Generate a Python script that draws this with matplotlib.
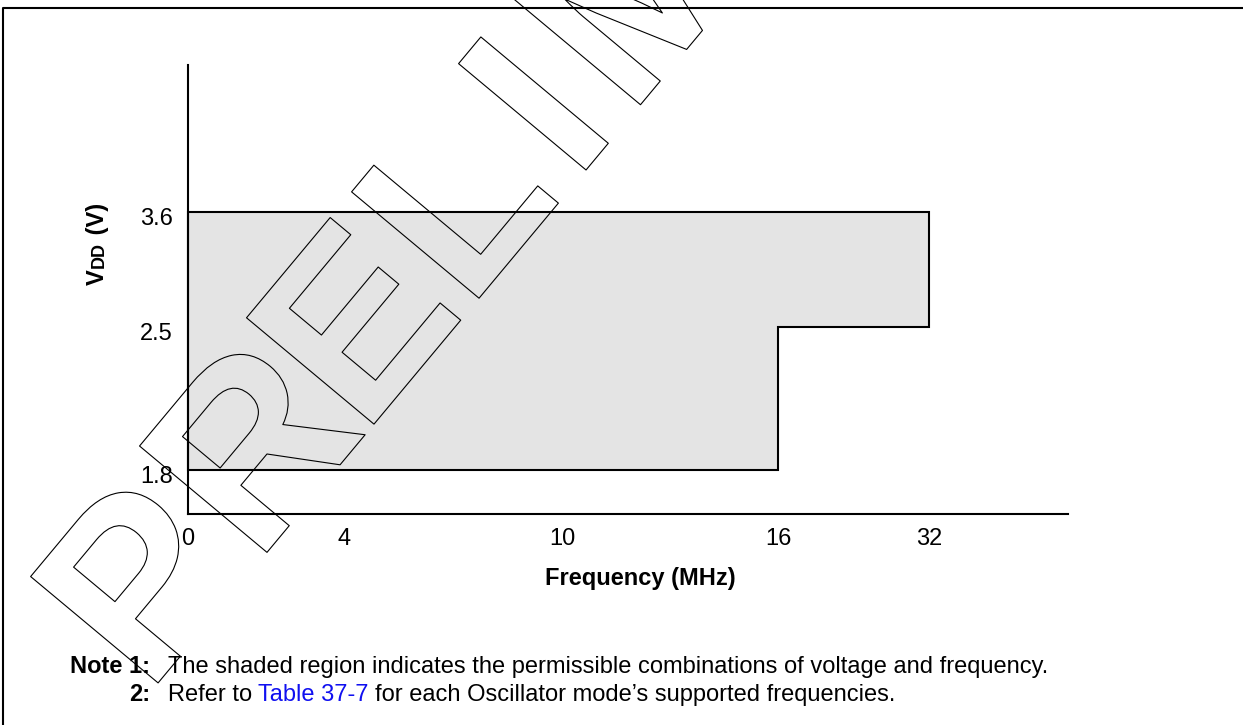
import numpy as np
import matplotlib
matplotlib.use("Agg")
import matplotlib.pyplot as plt
import matplotlib.patheffects as pe
from matplotlib.lines import Line2D
from matplotlib.font_manager import FontProperties
from matplotlib.textpath import TextPath
from matplotlib.transforms import ScaledTranslation

plt.rcParams['font.family'] = ['Liberation Sans', 'DejaVu Sans']

# donnees
FREQ_TICKS = [0, 4, 10, 16, 32]          # MHz
FREQ_LABELS = ['0', '4', '10', '16', '32']
VDD_TICKS = [1.8, 2.5, 3.6]              # V
VDD_LABELS = ['1.8', '2.5', '3.6']

# contour de la zone autorisee (frequence, tension)
ZONE_FREQ = [0, 32, 32, 16, 16, 0]
ZONE_VDD = [3.6, 3.6, 2.5, 2.5, 1.8, 1.8]

NOTE1 = "The shaded region indicates the permissible combinations of voltage and frequency."
NOTE2_A = "Refer to"
NOTE2_LINK = "Table 37-7"
NOTE2_B = "for each Oscillator mode\u2019s supported frequencies."

# mise en page (pixels) : axes non lineaires du schema
W, H = 1243, 725
X_POS = [0, 156, 374, 590, 741]   # position des graduations en x
Y_POS = [44, 187, 302]            # position des graduations en y
AX_L, AX_R, AX_T, AX_B = 188, 1068, 65, 514
FS = 17


def interp_ext(v, xs, ys):
    xs = np.asarray(xs, float)
    ys = np.asarray(ys, float)
    v = np.asarray(v, float)
    out = np.interp(v, xs, ys)
    s0 = (ys[1] - ys[0]) / (xs[1] - xs[0])
    s1 = (ys[-1] - ys[-2]) / (xs[-1] - xs[-2])
    out = np.where(v < xs[0], ys[0] + (v - xs[0]) * s0, out)
    out = np.where(v > xs[-1], ys[-1] + (v - xs[-1]) * s1, out)
    return out


fig = plt.figure(figsize=(W / 100, H / 100), dpi=100)
ax = fig.add_axes([AX_L / W, (H - AX_B) / H, (AX_R - AX_L) / W, (AX_B - AX_T) / H])

ax.set_xscale('function', functions=(lambda v: interp_ext(v, FREQ_TICKS, X_POS),
                                     lambda p: interp_ext(p, X_POS, FREQ_TICKS)))
ax.set_yscale('function', functions=(lambda v: interp_ext(v, VDD_TICKS, Y_POS),
                                     lambda p: interp_ext(p, Y_POS, VDD_TICKS)))
ax.set_xlim(0, float(interp_ext(AX_R - AX_L, X_POS, FREQ_TICKS)))
ax.set_ylim(float(interp_ext(0, Y_POS, VDD_TICKS)), float(interp_ext(AX_B - AX_T, Y_POS, VDD_TICKS)))

ax.fill(ZONE_FREQ, ZONE_VDD, facecolor='#e4e4e4', edgecolor='black', lw=1.5, clip_on=False, zorder=2)

for s in ['top', 'right']:
    ax.spines[s].set_visible(False)
for s in ['left', 'bottom']:
    ax.spines[s].set_linewidth(1.5)
    ax.spines[s].set_zorder(3)

ax.set_xticks(FREQ_TICKS, FREQ_LABELS)
ax.set_yticks(VDD_TICKS, VDD_LABELS)
ax.minorticks_off()
ax.tick_params(axis='x', length=0, labelsize=FS, pad=10)
ax.tick_params(axis='y', length=0, labelsize=FS, pad=11)
# les etiquettes en y sont un peu sous les lignes dans l'original
for tk in ax.yaxis.get_major_ticks():
    tk.label1.set_va('center_baseline')
    tk.label1.set_transform(tk.label1.get_transform() + ScaledTranslation(0, -0.045, fig.dpi_scale_trans))

fig.text(640 / W, 1 - 579 / H, 'Frequency (MHz)', ha='center', va='center',
         fontsize=FS, fontweight='bold')

# cadre
fig.add_artist(Line2D([3 / W, 3 / W, 1], [0, 1 - 8 / H, 1 - 8 / H],
                      transform=fig.transFigure, color='black', lw=1.5))

fig.canvas.draw()
rend = fig.canvas.get_renderer()

# etiquette VDD (V) : V + DD plus petit + (V), tournee de 90 degres
yb = H - 285
xb = 104
for txt, fs in [('V', FS), ('DD', 13), (' (V)', FS)]:
    t = fig.text(xb / W, yb / H, txt, rotation=90, rotation_mode='anchor',
                 ha='left', va='baseline', fontsize=fs, fontweight='bold')
    bb = t.get_window_extent(rend)
    yb = bb.y1 + 1

# notes
fig.text(150 / W, 1 - 673 / H, 'Note 1:', ha='right', va='baseline', fontsize=FS, fontweight='bold')
fig.text(168 / W, 1 - 673 / H, NOTE1, ha='left', va='baseline', fontsize=FS)
fig.text(150 / W, 1 - 701 / H, '2:', ha='right', va='baseline', fontsize=FS, fontweight='bold')
x = 168
for txt, col in [(NOTE2_A, 'black'), (NOTE2_LINK, '#1010f0'), (NOTE2_B, 'black')]:
    t = fig.text(x / W, 1 - 701 / H, txt, ha='left', va='baseline', fontsize=FS, color=col)
    x = t.get_window_extent(rend).x1 + 6

# filigrane PRELIMINARY (lettres au trait)
fp = FontProperties(family='Liberation Sans', weight='bold')
cap100 = TextPath((0, 0), 'I', size=100, prop=fp).get_extents().height
wm_fs = 100 * 166 / cap100 * 72 / 100
ang = 50.16
ux, uy = np.cos(np.radians(ang)), np.sin(np.radians(ang))
x0, y0 = 158, H - 683
for ch, d in zip('PRELIM', [0, 170, 337, 501, 668, 753]):
    d = d - 16
    fig.text((x0 + d * ux) / W, (y0 + d * uy) / H, ch, rotation=ang, rotation_mode='anchor',
             ha='left', va='baseline', fontsize=wm_fs,
             fontweight='bold', color='none', zorder=5,
             path_effects=[pe.Stroke(linewidth=0.8, foreground='black')])

fig.savefig('out.png', dpi=100)
